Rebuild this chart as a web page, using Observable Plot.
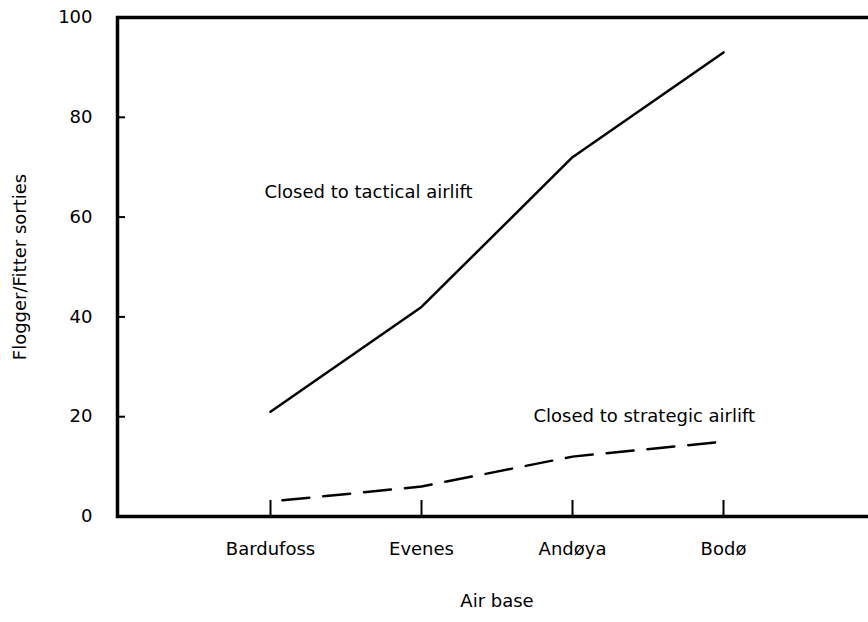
<!DOCTYPE html>
<html><head><meta charset="utf-8">
<script src="https://cdn.jsdelivr.net/npm/d3@7"></script>
<script src="https://cdn.jsdelivr.net/npm/@observablehq/plot@0.6"></script>
<style>body{margin:0;background:#fff}</style>
</head><body><div id="chart"></div>
<script>
const bases = ["Bardufoss", "Evenes", "Andøya", "Bodø"];
const tactical = [21, 42, 72, 93];
const strategic = [3, 6, 12, 15];
const yTicks = [0, 20, 40, 60, 80, 100];
const yTickMarks = [20, 40, 60, 80];
const labelTexts = ["Closed to tactical airlift", "Closed to strategic airlift"];
const labelBases = ["Bardufoss", "Andøya"];
const labelValues = [65, 20];

const W = 868, H = 622, mL = 117, mT = 17, mB = 106, mR = -8;
const frameW = W - mR - mL, frameH = H - mB - mT;

const tacData = bases.map((b, i) => ({base: b, value: tactical[i]}));
const strData = bases.map((b, i) => ({base: b, value: strategic[i]}));
const labData = labelTexts.map((t, i) => ({text: t, base: labelBases[i], value: labelValues[i]}));

const chart = Plot.plot({
  width: W, height: H,
  marginLeft: mL, marginTop: mT, marginBottom: mB, marginRight: mR,
  style: {fontFamily: "'DejaVu Sans', sans-serif", fontSize: "18px", color: "#000", background: "#fff"},
  x: {type: "point", domain: bases, padding: 1},
  y: {domain: [0, 100]},
  marks: [
    Plot.axisX({tickSize: 0, tickPadding: 26, label: "Air base", labelAnchor: "center", labelOffset: 90, labelArrow: "none"}),
    Plot.axisY({ticks: yTicks, tickSize: 0, tickPadding: 25, tickFormat: d => String(d), label: "Flogger/Fitter sorties", labelAnchor: "center", labelOffset: 104, labelArrow: "none"}),
    Plot.frame({stroke: "#000", strokeWidth: 3.5}),
    Plot.tickY(yTickMarks, {y: d => d, stroke: "#000", strokeWidth: 2, insetRight: frameW - 8}),
    Plot.tickX(bases, {x: d => d, stroke: "#000", strokeWidth: 2, insetTop: frameH - 16}),
    Plot.line(tacData, {x: "base", y: "value", curve: "linear", stroke: "#000", strokeWidth: 2.5}),
    Plot.line(strData, {x: "base", y: "value", curve: "linear", stroke: "#000", strokeWidth: 2.5, strokeDasharray: "27,14", strokeDashoffset: -12}),
    Plot.text(labData.slice(0, 1), {x: "base", y: "value", text: "text", textAnchor: "start", dx: -6, fill: "#000"}),
    Plot.text(labData.slice(1), {x: "base", y: "value", text: "text", textAnchor: "start", dx: -39, fill: "#000"})
  ]
});
document.getElementById("chart").appendChild(chart);
</script>
</body></html>
